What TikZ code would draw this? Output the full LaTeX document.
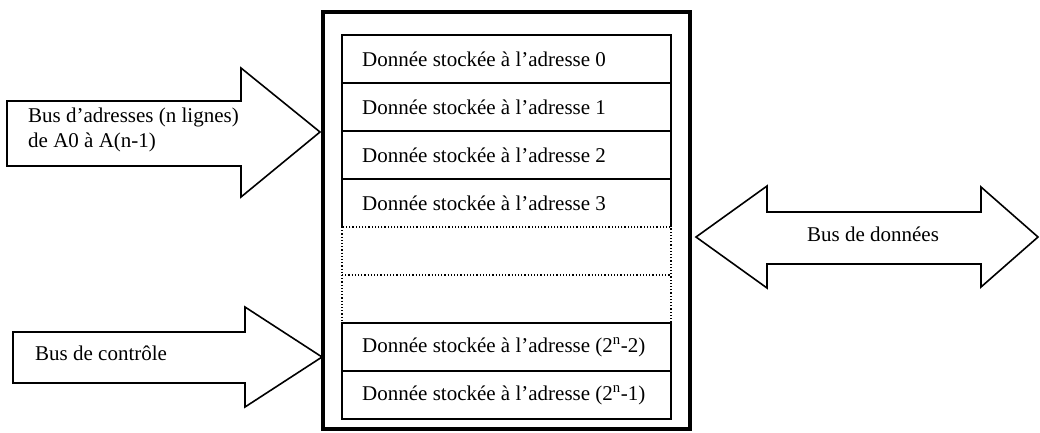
\documentclass[tikz,border=0pt]{standalone}
\usepackage{fontspec}
\setmainfont{Liberation Serif}
\usetikzlibrary{positioning}

\tikzset{
  celltext/.style={anchor=west, inner sep=0pt},
  busarrow/.style={draw, line width=1.6pt, fill=white}
}

\begin{document}
\begin{tikzpicture}[x=1pt, y=-1pt, font=\fontsize{21}{25}\selectfont]
    \useasboundingbox (0,0) rectangle (1040,432);
    % memoire
    \draw[line width=3.4pt] (323,12) rectangle (690,429);
    \draw[line width=1.6pt] (342,227) -- (342,35) -- (671,35) -- (671,227);
    \draw[line width=1.6pt] (342,83) -- (671,83);
    \draw[line width=1.6pt] (342,131) -- (671,131);
    \draw[line width=1.6pt] (342,179) -- (671,179);
    \draw[dotted, line width=1.2pt] (342,227) rectangle (671,323);
    \draw[dotted, line width=1.2pt] (342,275) -- (671,275);
    \draw[line width=1.6pt] (342,323) rectangle (671,419);
    \draw[line width=1.6pt] (342,371) -- (671,371);
    \node[celltext] (adr0) at (362,59) {Donnée stockée à l'adresse 0};
    \node[celltext] (adr1) at (362,107) {Donnée stockée à l'adresse 1};
    \node[celltext] (adr2) at (362,155) {Donnée stockée à l'adresse 2};
    \node[celltext] (adr3) at (362,203) {Donnée stockée à l'adresse 3};
    \node[celltext] (adrm2) at (362,347) {Donnée stockée à l'adresse (2\textsuperscript{n}-2)};
    \node[celltext] (adrm1) at (362,395) {Donnée stockée à l'adresse (2\textsuperscript{n}-1)};
    % bus
    \draw[busarrow] (7,101) -- (241,101) -- (241,68) -- (320,132) -- (241,197) -- (241,166) -- (7,166) -- cycle;
    \node[celltext, align=left] (adrbus) at (28,130) {Bus d'adresses (n lignes)\\de A0 à A(n-1)};
    \draw[busarrow] (13,332) -- (245,332) -- (245,307) -- (322,357) -- (245,407) -- (245,383) -- (13,383) -- cycle;
    \node[celltext] (ctrlbus) at (35,353) {Bus de contrôle};
    \draw[busarrow] (696,237) -- (767,186) -- (767,212) -- (981,212) -- (981,187) -- (1038,237) -- (981,287) -- (981,264) -- (767,264) -- (767,288) -- cycle;
    \node (databus) at (873,234) {Bus de données};
\end{tikzpicture}
\end{document}
